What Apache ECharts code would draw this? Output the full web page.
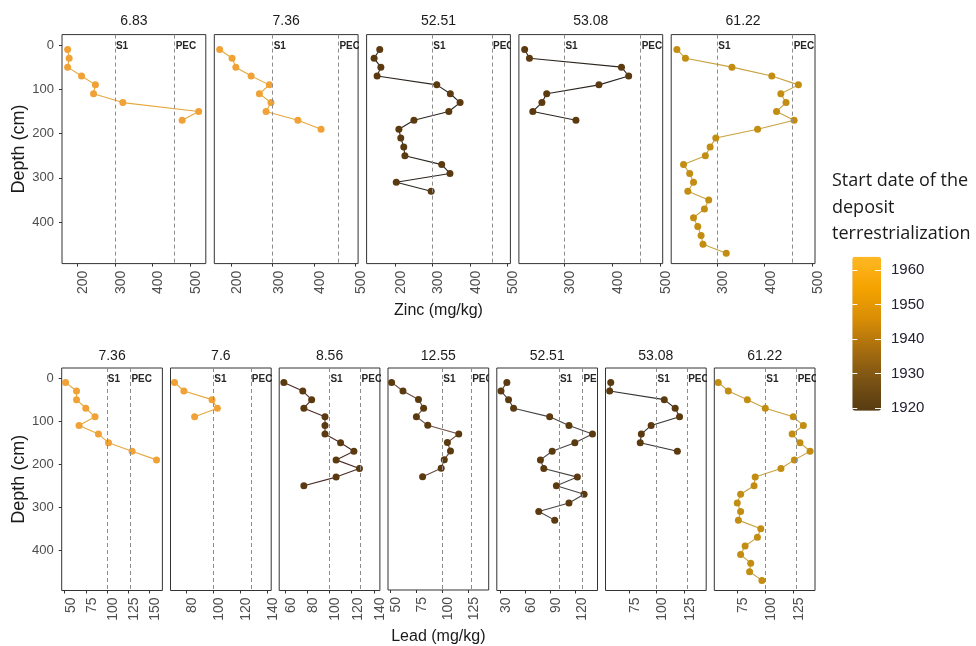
<!DOCTYPE html>
<html><head><meta charset="utf-8">
<script src="https://cdn.jsdelivr.net/npm/echarts@6/dist/echarts.min.js"></script>
<style>html,body{margin:0;padding:0;background:#fff}#c{width:976px;height:646px}</style>
</head><body><div id="c"></div>
<script>
// ---------- data ----------
const depthCm = [10,30,50,70,90,110,130,150,170,190,210,230,250,270,290,310,330,350,370,390,410,430,450,470];
const depthTicks = [0,100,200,300,400];

const zincSites = ['6.83','7.36','52.51','53.08','61.22'];
const zinc_6_83  = [174,178,174,211,248,243,321,523,479];
const zinc_7_36  = [172,202,211,248,292,268,296,284,361,417];
const zinc_52_51 = [160,145,163,153,312,348,374,344,251,211,216,224,227,325,347,204,297];
const zinc_53_08 = [217,227,419,434,372,263,253,234,324];
const zinc_61_22 = [215,233,331,415,471,434,445,425,462,385,297,285,275,229,242,250,238,282,273,250,259,266,270,319];
const zincTicks  = [[200,300,400,500],[200,300,400,500],[200,300,400,500],[300,400,500],[300,400,500]];
const zincLimits = [[159,542],[159,506.5],[125,508],[205,505],[203,506]];
const zincS1 = 300, zincPEC = 459;

const leadSites = ['7.36','7.6','8.56','12.55','52.51','53.08','61.22'];
const lead_7_36  = [51,64,64,75,86,67,90,102,130,159];
const lead_7_6   = [71,78,99,103,86];
const lead_8_56  = [59,76,84,77,96,96,96,110,122,106,127,106,77];
const lead_12_55 = [51,62,77,82,75,86,116,105,108,102,99,81];
const lead_52_51 = [38,31,40,46,89,112,140,119,92,78,82,122,97,130,112,76,95];
const lead_53_08 = [58,57,107,117,121,95,86,85,119];
const lead_61_22 = [58,67,84,100,125,134,124,131,140,126,114,91,90,78,75,78,76,96,93,82,78,87,86,97];
const leadTicks  = [[50,75,100,125,150],[80,100,120,140],[60,80,100,120,140],[50,75,100,125],[30,60,90,120],[75,100,125],[75,100,125]];
const leadLimits = [[46.4,166],[68,143.2],[54.8,145.4],[47.5,145],[26,146],[53.2,145.4],[54.5,144.4]];
const leadS1 = 100, leadPEC = 128;

const refLabels = ['S1','PEC'];
const legendTicks = [1920,1930,1940,1950,1960];
const legendRange = [1919.3,1963.8];

// ---------- styles ----------
const FONT = '"Liberation Sans", Arial, sans-serif';
const cOrange = '#F0A236', cDark = '#5C3A10', cGold = '#C38D12';
const zincPt = [cOrange,cOrange,cDark,cDark,cGold];
const zincLn = ['#E6A83C','#E6A83C','#2B2620','#2B2620','#C9A23E'];
const leadPt = [cOrange,cOrange,cDark,cDark,cDark,cDark,cGold];
const leadLn = ['#E6A83C','#E6A83C','#4A2C28','#6A4C40','#4A4545','#333333','#C9A23E'];

const zincVals = [zinc_6_83,zinc_7_36,zinc_52_51,zinc_53_08,zinc_61_22];
const leadVals = [lead_7_36,lead_7_6,lead_8_56,lead_12_55,lead_52_51,lead_53_08,lead_61_22];

const rows = [
  {sites:zincSites, vals:zincVals, ticks:zincTicks, lims:zincLimits, s1:zincS1, pec:zincPEC, pt:zincPt, ln:zincLn,
   lefts:[62,214.3,366.6,518.9,671.2], width:143.8, top:34.6, height:229, titleTop:14, nameIdx:2, name:'Zinc (mg/kg)'},
  {sites:leadSites, vals:leadVals, ticks:leadTicks, lims:leadLimits, s1:leadS1, pec:leadPEC, pt:leadPt, ln:leadLn,
   lefts:[61.7,170.5,279.2,388,496.8,605.5,714.3], width:100.7, top:368, height:222.5, titleTop:349, nameIdx:3, name:'Lead (mg/kg)'}
];

const grid=[], xAxis=[], yAxis=[], series=[], title=[];
rows.forEach(function(r){
  r.sites.forEach(function(site,i){
    const gi = grid.length;
    grid.push({left:r.lefts[i], top:r.top, width:r.width, height:r.height, show:true,
      borderColor:'#333', borderWidth:1, backgroundColor:'#fff', containLabel:false});
    const isName = (i===r.nameIdx);
    xAxis.push({gridIndex:gi, type:'value', min:r.lims[i][0], max:r.lims[i][1], position:'bottom',
      axisLine:{show:false, onZero:false}, splitLine:{show:false},
      axisTick:{show:true, length:3, lineStyle:{color:'#333'}, customValues:r.ticks[i]},
      axisLabel:{show:true, customValues:r.ticks[i], rotate:90, margin:7, fontSize:14, color:'#4d4d4d',
        fontFamily:FONT, verticalAlign:'top', lineHeight:12},
      name: isName ? r.name : '', nameLocation:'middle', nameGap:39,
      nameTextStyle:{fontSize:16, color:'#1a1a1a', fontFamily:FONT}});
    const first = (i===0);
    yAxis.push({gridIndex:gi, type:'value', inverse:true, min:-23.5, max:493.5, show:first,
      axisLine:{show:false, onZero:false}, splitLine:{show:false},
      axisTick:{show:true, length:3, lineStyle:{color:'#333'}, customValues:depthTicks},
      axisLabel:{show:true, customValues:depthTicks, margin:8, fontSize:13, color:'#4d4d4d', fontFamily:FONT},
      name: first ? 'Depth (cm)' : '', nameLocation:'middle', nameGap:34,
      nameTextStyle:{fontSize:18, color:'#1a1a1a', fontFamily:FONT}});
    const vals = r.vals[i];
    series.push({type:'line', xAxisIndex:gi, yAxisIndex:gi,
      data: vals.map(function(v,k){return [v, depthCm[k]];}),
      symbol:'circle', symbolSize:7, showSymbol:true,
      itemStyle:{color:r.pt[i]}, lineStyle:{color:r.ln[i], width:1.1},
      emphasis:{disabled:true}, silent:true, z:3,
      markLine:{silent:true, symbol:['none','none'], label:{show:false},
        lineStyle:{color:'#8c8c8c', type:[4,3], width:1}, emphasis:{disabled:true},
        data:[{xAxis:r.s1},{xAxis:r.pec}]}
    });
    series.push({type:'custom', xAxisIndex:gi, yAxisIndex:gi, clip:true, silent:true, z:4,
      data:[[r.s1,0],[r.pec,0]],
      renderItem:function(params, api){
        const p = api.coord([api.value(0), api.value(1)]);
        return {type:'text', x:p[0]+1, y:p[1]+1.5,
          style:{text:refLabels[params.dataIndex], fontSize:10, fontWeight:'bold', fontFamily:FONT,
                 fill:'#262626', align:'left', verticalAlign:'middle'}};
      }});
    title.push({text:site, left:r.lefts[i]+r.width/2, top:r.titleTop, textAlign:'center', padding:0,
      textStyle:{fontSize:14, fontWeight:'normal', color:'#1a1a1a', fontFamily:FONT}});
  });
});

// legend axis grid (colour bar ticks/labels)
const lg = grid.length;
grid.push({left:852.3, top:270, width:28.7, height:138.3, show:false});
xAxis.push({gridIndex:lg, type:'value', show:false, min:0, max:1});
yAxis.push({gridIndex:lg, type:'value', min:1920, max:1960, position:'right',
  axisLine:{show:false, onZero:false}, splitLine:{show:false},
  axisTick:{show:true, inside:true, length:6, lineStyle:{color:'#ffffff', width:1}, customValues:legendTicks},
  axisLabel:{show:true, customValues:legendTicks, margin:10, fontSize:15, color:'#222233', fontFamily:FONT,
    formatter:function(v){return String(v);}}, z:10});
yAxis.push({gridIndex:lg, type:'value', min:1920, max:1960, position:'left',
  axisLine:{show:false, onZero:false}, splitLine:{show:false},
  axisTick:{show:true, inside:true, length:5, lineStyle:{color:'#ffffff', width:1}, customValues:legendTicks},
  axisLabel:{show:false}, z:10});
const dummyIdx = series.length;
series.push({type:'scatter', xAxisIndex:lg, yAxisIndex:yAxis.length-2, data:[], silent:true});

title.push({text:'Start date of the\ndeposit\nterrestrialization', left:832, top:168, padding:0,
  textStyle:{fontFamily:'"Open Sans", sans-serif', fontSize:18, fontWeight:'normal', color:'#1a1a1a', lineHeight:26.5}});

const option = {
  animation:false,
  backgroundColor:'#fff',
  textStyle:{fontFamily:FONT},
  title:title, grid:grid, xAxis:xAxis, yAxis:yAxis, series:series,
  visualMap:[{type:'continuous', min:legendRange[0], max:legendRange[1], seriesIndex:dummyIdx,
    left:852.3, top:256.7, itemWidth:28.7, itemHeight:154, padding:0, calculable:false, hoverLink:false,
    inRange:{color:['#573B12','#7A5314','#A86E0E','#D98E05','#F5A300','#FFB824']}, z:1}]
};
const chart = echarts.init(document.getElementById('c'));
chart.setOption(option);
</script></body></html>
